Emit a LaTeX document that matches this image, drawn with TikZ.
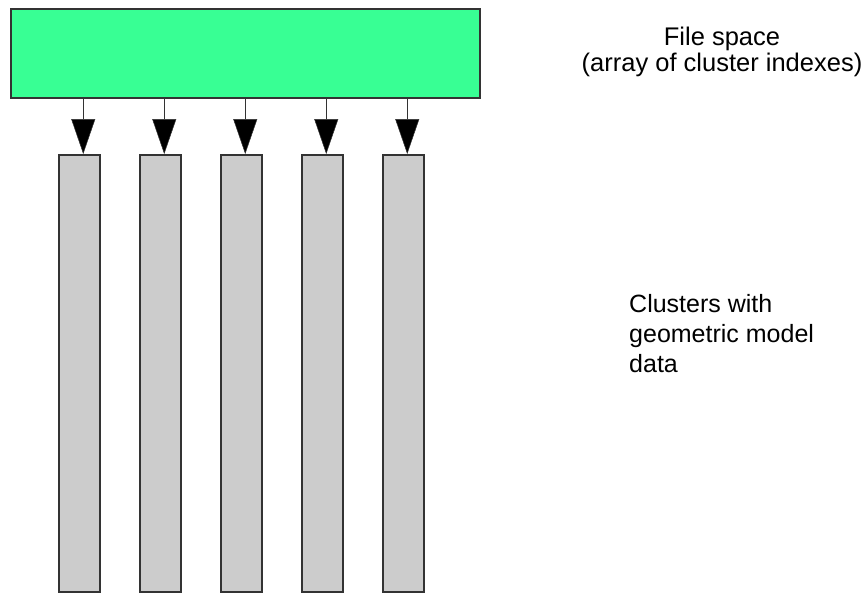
\documentclass[tikz,border=0pt]{standalone}
\usepackage{fontspec}
\setmainfont{Liberation Sans}
\usetikzlibrary{arrows.meta}
\definecolor{filegreen}{HTML}{38FF94}
\definecolor{colgray}{HTML}{CCCCCC}
\definecolor{edgegray}{HTML}{333333}
\begin{document}
\begin{tikzpicture}[x=1pt,y=-1pt,
  filebox/.style={draw=edgegray, fill=filegreen, line width=1.5pt, minimum width=469pt, minimum height=89pt, anchor=north west, inner sep=0pt},
  colbox/.style={draw=edgegray, fill=colgray, line width=1.5pt, minimum width=41pt, minimum height=437pt, anchor=north west, inner sep=0pt},
  arr/.style={draw=edgegray, line width=1.5pt, -{Triangle[width=24pt,length=35pt,fill=black,line width=0.5pt]}, shorten >=0pt},
  lbl/.style={inner sep=0pt, text=black}
]
\useasboundingbox (0,0) rectangle (865,592);
\node[filebox] (fs) at (10,8) {};
\foreach \i/\x in {1/58,2/139,3/220,4/301,5/382} {
  \node[colbox] (c\i) at (\x,154) {};
}
\foreach \i in {1,...,5} {
  \draw[arr] ([xshift=4pt]c\i.north |- fs.south) -- ([xshift=4pt]c\i.north);
}
\node[lbl, font=\fontsize{25.5}{26}\selectfont, align=center, anchor=north] (t1) at (722,27) {File space\\(array of cluster indexes)};
\node[lbl, font=\fontsize{25}{30}\selectfont, align=left, anchor=north west] (t2) at (629,294) {Clusters with\\geometric model\\data};
\end{tikzpicture}
\end{document}
